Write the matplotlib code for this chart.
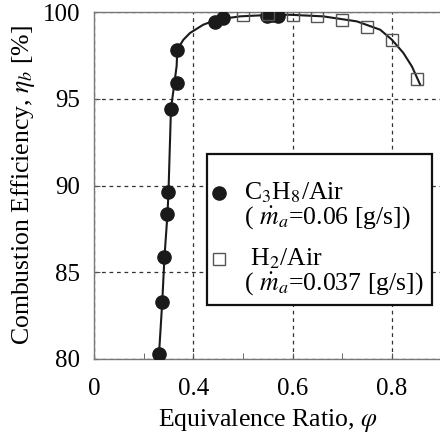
import matplotlib
matplotlib.use('Agg')
import matplotlib.pyplot as plt
from matplotlib.legend_handler import HandlerLine2D

plt.rcParams['font.family'] = ['Liberation Serif', 'DejaVu Serif']
plt.rcParams['mathtext.fontset'] = 'stix'

# C3H8/Air data
phi_c3h8 = [0.331, 0.3375, 0.342, 0.348, 0.350, 0.355, 0.3665, 0.3665,
            0.444, 0.460, 0.548, 0.559, 0.571]
eta_c3h8 = [80.3, 83.3, 85.9, 88.35, 89.6, 94.4, 95.9, 97.8,
            99.45, 99.65, 99.75, 99.8, 99.75]

# H2/Air data
phi_h2 = [0.50, 0.55, 0.60, 0.65, 0.70, 0.75, 0.80, 0.85]
eta_h2 = [99.84, 99.9, 99.84, 99.75, 99.52, 99.11, 98.4, 96.15]

# fitted curve, points
curve_x = [0.3295, 0.331, 0.3375, 0.342, 0.348, 0.350, 0.355, 0.3665, 0.3677,
           0.380, 0.3933, 0.4202, 0.4472, 0.4942, 0.545, 0.595, 0.6615,
           0.7294, 0.7764, 0.80, 0.8228, 0.8403, 0.8571]
curve_y = [79.7, 80.3, 83.3, 85.9, 88.35, 89.6, 94.4, 96.9, 97.83,
           98.4, 98.79, 99.27, 99.56, 99.75, 99.82, 99.84, 99.75,
           99.46, 98.98, 98.4, 97.65, 96.86, 95.8]

xticks = [0.2, 0.4, 0.6, 0.8]
xtick_labels = ['0', '0.4', '0.6', '0.8']
yticks = [80, 85, 90, 95, 100]


class TopLineHandler(HandlerLine2D):
    # put the marker next to the first line of a two-line label
    def create_artists(self, legend, orig_handle, xdescent, ydescent,
                       width, height, fontsize, trans):
        arts = super().create_artists(legend, orig_handle, xdescent, ydescent,
                                      width, height, fontsize, trans)
        for a in arts:
            a.set_ydata([y + 0.5 * fontsize for y in a.get_ydata()])
        return arts


fig = plt.figure(figsize=(4.4, 4.37), dpi=100)
ax = fig.add_axes([0.2136, 0.1785, 0.79, 0.794])

ax.plot(curve_x, curve_y, color='#1a1a1a', lw=1.5, zorder=2)
ax.plot(phi_c3h8, eta_c3h8, 'o', color='#1a1a1a', ms=9.5, ls='none', zorder=3,
        label='C$_3$H$_8$/Air\n( $\\dot{m}_a$=0.06 [g/s])')
ax.plot(phi_h2, eta_h2, 's', mfc='none', mec='#555555', mew=1.0, ms=9, ls='none',
        zorder=3, label=' H$_2$/Air\n( $\\dot{m}_a$=0.037 [g/s])')

ax.set_xlim(0.2, 0.9)
ax.set_ylim(80, 100)
ax.set_xticks(xticks)
ax.set_xticklabels(xtick_labels)
ax.set_xticks([0.3, 0.5, 0.7], minor=True)
ax.set_yticks(yticks)
ax.tick_params(direction='in', length=4, labelsize=18, color='#555555')
ax.tick_params(axis='x', pad=14)
ax.tick_params(axis='y', pad=10)
ax.tick_params(which='minor', direction='in', length=4, color='#555555')

for s in ax.spines.values():
    s.set_color('#777777')
    s.set_linewidth(1.0)

ax.grid(True, which='major', color='#333333', ls=(0, (3, 3)), lw=0.9)

ax.set_xlabel('Equivalence Ratio, $\\varphi$', fontsize=18.5, labelpad=5)
ax.set_ylabel('Combustion Efficiency, $\\eta_b$ [%]', fontsize=18.5, labelpad=4)

leg = ax.legend(loc='lower left', bbox_to_anchor=(0.325, 0.156), fontsize=18.5,
                title=' ', title_fontsize=2,
                frameon=True, fancybox=False, edgecolor='#111111',
                handlelength=0.3, handletextpad=0.85, borderpad=0.3,
                labelspacing=0.6, borderaxespad=0,
                handler_map={matplotlib.lines.Line2D: TopLineHandler()})
leg.get_frame().set_linewidth(1.6)
leg.get_frame().set_alpha(1)
for t in leg.get_texts():
    t.set_linespacing(0.95)

fig.savefig('out.png', dpi=100)
